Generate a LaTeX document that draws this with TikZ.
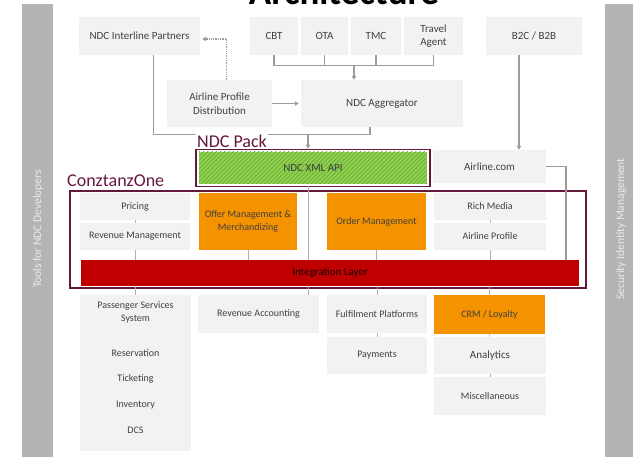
\documentclass[tikz,border=0pt]{standalone}
\usepackage{fontspec}
\setmainfont{Carlito}
\usetikzlibrary{arrows.meta,patterns.meta}
\definecolor{boxgray}{RGB}{242,242,242}
\definecolor{txt}{RGB}{64,64,64}
\definecolor{lgray}{RGB}{160,156,152}
\definecolor{bargray}{RGB}{180,180,180}
\definecolor{maroon}{RGB}{100,24,60}
\definecolor{orng}{RGB}{244,146,0}
\definecolor{ilred}{RGB}{192,0,0}
\definecolor{grn}{RGB}{146,208,80}
\definecolor{dgrn}{RGB}{100,170,50}
\newcommand{\bx}[7]{\node[#6, minimum width={(#4-#2)*1pt}, minimum height={(#5-#3)*1pt}] (#1) at ({(#2+#4)/2},{-(#3+#5)/2}) {#7};}
\tikzset{
  box/.style={fill=boxgray, draw=none, text=txt, font=\fontsize{10}{13}\selectfont, align=center, inner sep=0pt},
  bigbox/.style={box, font=\fontsize{11}{13}\selectfont},
  obox/.style={box, fill=orng},
  lbl/.style={text=txt, font=\fontsize{10}{13}\selectfont, align=center, inner sep=0pt},
  conn/.style={draw=lgray, line width=1.3pt},
  arr/.style={conn, -{Triangle[length=4pt,width=4.5pt]}},
  dotarr/.style={draw=lgray, line width=1.3pt, densely dotted, -{Triangle[length=4pt,width=4.5pt]}},
  thinl/.style={draw=lgray!80, line width=0.6pt},
  frame/.style={draw=maroon, line width=1.6pt, fill=none, inner sep=0pt},
  bartxt/.style={text=white!92!black, font=\fontsize{11.5}{13}\selectfont, rotate=90, inner sep=0pt},
  biglbl/.style={text=maroon, font=\fontsize{18}{20}\selectfont, inner sep=1pt}
}
\begin{document}
\begin{tikzpicture}[x=1pt,y=1pt]
\useasboundingbox (0,0) rectangle (633,-457);
\clip (0,0) rectangle (633,-457);
% title (cut off at top, as in the reference)
\node[anchor=base, font=\bfseries\fontsize{37}{40}\selectfont, inner sep=0pt] (title) at (344,-5) {Architecture};
% side bars
\bx{lbar}{22}{4}{53}{470}{fill=bargray, inner sep=0pt}{}
\bx{rbar}{605}{4}{640}{470}{fill=bargray, inner sep=0pt}{}
\node[bartxt] (ltxt) at (38,-229) {Tools for NDC Developers};
\node[bartxt] (rtxt) at (621,-229) {Security Identity Management};
% top row
\bx{nip}{79}{17}{200}{55}{bigbox}{NDC Interline Partners}
\bx{cbt}{250}{17}{298}{55}{bigbox}{CBT}
\bx{ota}{301}{17}{348}{55}{bigbox}{OTA}
\bx{tmc}{351}{17}{401}{55}{bigbox}{TMC}
\bx{ta}{404}{17}{463}{55}{bigbox, font=\fontsize{11}{12.5}\selectfont}{Travel\\Agent}
\bx{b2c}{486}{17}{582}{55}{bigbox}{B2C / B2B}
\bx{apd}{167}{80}{272}{127}{bigbox, font=\fontsize{11}{14}\selectfont}{Airline Profile\\Distribution}
\bx{agg}{301}{80}{463}{127}{bigbox}{NDC Aggregator}
% top connectors
\draw[conn] (cbt.south) -- ++(0,-10) -| (ta.south);
\draw[conn] (ota.south) -- ++(0,-10);
\draw[conn] (tmc.south) -- ++(0,-10);
\coordinate (busA) at (354,-65);
\draw[arr] (busA) -- (busA |- agg.north);
\draw[arr] (apd.east) -- ([xshift=-2pt]agg.west);
\draw[dotarr] ([xshift=7pt]apd.north) |- ([xshift=2pt,yshift=-3pt]nip.east);
\draw[conn] ([xshift=14pt]nip.south) -- ++(0,-79) -| ([xshift=-12pt]agg.south);
% NDC Pack
\bx{api}{199}{152}{427}{184}{box, fill=grn, postaction={pattern={Lines[angle=45,distance=3pt,line width=0.7pt]}, pattern color=dgrn}}{}
\node[text=txt, font=\fontsize{11}{13}\selectfont] (apitxt) at (api) {NDC XML API};
\bx{pack}{196}{149.5}{430}{186.5}{frame}{}
\node[biglbl, fill=white, anchor=south west] (packlbl) at (196,-149) {NDC Pack};
\coordinate (j1) at (308,-134);
\draw[arr] (j1) -- (j1 |- pack.north);
\bx{acom}{433}{150}{546}{183}{bigbox}{Airline.com}
\draw[arr] ([xshift=-15pt]b2c.south) -- ([xshift=-15pt]b2c.south |- acom.north);
% ConztanzOne
\node[biglbl, anchor=south west] (ctlbl) at (66,-188) {ConztanzOne};
\bx{ctz}{70}{191}{586}{288}{frame}{}
\bx{pricing}{80}{193}{190}{220}{box}{Pricing}
\bx{revm}{80}{223}{190}{250}{box}{Revenue Management}
\bx{offer}{199}{193}{297}{250}{obox}{Offer Management \&\\Merchandizing}
\bx{order}{327}{193}{426}{250}{obox}{Order Management}
\bx{rich}{434}{193}{546}{220}{box}{Rich Media}
\bx{aprof}{434}{223}{546}{250}{box}{Airline Profile}
\bx{il}{81}{260}{579}{286}{bigbox, fill=ilred, text=black!90!red}{Integration Layer}
\draw[conn] (acom.east) -| (566,0 |- il.north);
% thin links
\draw[thinl] (pricing.south) -- (revm.north);
\draw[thinl] (revm.south) -- (revm.south |- il.north);
\draw[thinl] (offer.south) -- (offer.south |- il.north);
\draw[thinl] (order.south) -- (order.south |- il.north);
\draw[thinl] (rich.south) -- (aprof.north);
\draw[thinl] (aprof.south) -- (aprof.south |- il.north);
\coordinate (j2) at (308,-186.5);
\draw[thinl] (j2) -- (j2 |- il.north);
% bottom row
\bx{pss}{80}{295}{191}{451}{box}{}
\node[lbl] (psst) at (135.5,-312.5) {Passenger Services\\System};
\node[lbl] (res) at (135.5,-353) {Reservation};
\node[lbl] (tick) at (135.5,-379) {Ticketing};
\node[lbl] (inv) at (135.5,-405) {Inventory};
\node[lbl] (dcs) at (135.5,-430) {DCS};
\bx{reva}{198}{295}{319}{333}{box}{Revenue Accounting}
\bx{ful}{327}{295}{427}{333}{box}{Fulfilment Platforms}
\bx{pay}{327}{337}{427}{374}{box}{Payments}
\bx{crm}{434}{295}{545}{334}{obox}{CRM / Loyalty}
\bx{ana}{434}{337}{546}{374}{bigbox}{Analytics}
\bx{misc}{434}{377}{546}{415}{box}{Miscellaneous}
\draw[thinl] (il.south -| pss.north) -- (pss.north);
\coordinate (j3) at (308,-286);
\draw[thinl] (j3) -- (j3 |- reva.north);
\draw[thinl] (il.south -| ful.north) -- (ful.north);
\draw[thinl] (il.south -| crm.north) -- (crm.north);
\draw[thinl] (ful.south) -- (pay.north);
\draw[thinl] (crm.south) -- (ana.north);
\draw[thinl] (ana.south) -- (misc.north);
\end{tikzpicture}
\end{document}
